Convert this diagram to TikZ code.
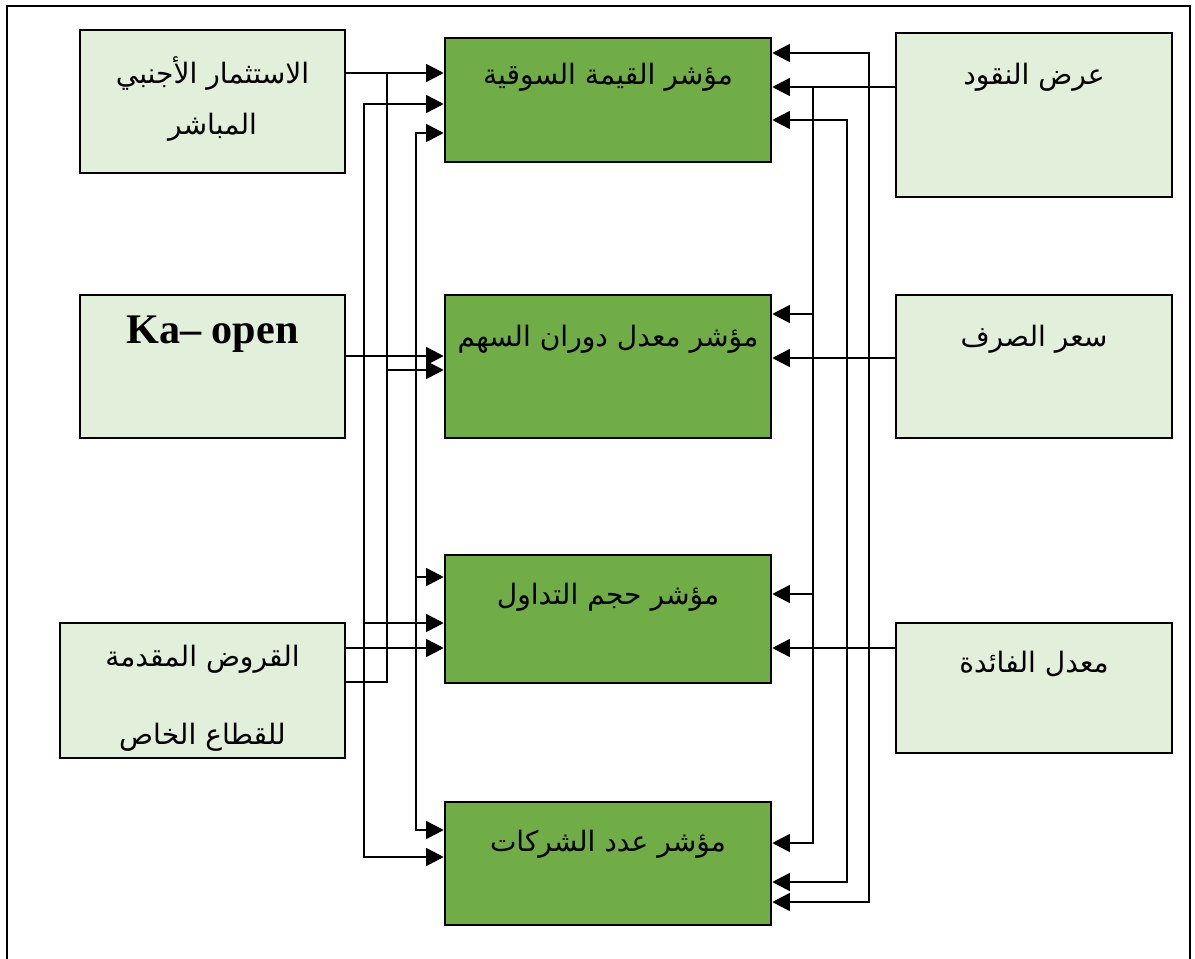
\documentclass[tikz,border=0pt]{standalone}
\usepackage{fontspec}
\usetikzlibrary{arrows.meta}
\newfontfamily\arabicfont[Script=Arabic]{DejaVu Sans}
\newfontfamily\latinserif{Liberation Serif}
\TeXXeTstate=1
\definecolor{paleGreen}{HTML}{E2EFDA}
\definecolor{leafGreen}{HTML}{70AD47}

\tikzset{
  inbox/.style={draw, fill=paleGreen, line width=0.7pt, inner sep=0pt},
  midbox/.style={draw, fill=leafGreen, line width=0.7pt, inner sep=0pt, minimum width=3.26cm},
  lbl/.style={font=\arabicfont\fontsize{8}{9.6}\selectfont, align=center, inner sep=0pt},
  arr/.style={-{Triangle[length=5pt,width=5pt]}, line width=0.75pt},
  arrtwo/.style={{Triangle[length=5pt,width=5pt]}-{Triangle[length=5pt,width=5pt]}, line width=0.75pt},
  wire/.style={line width=0.75pt}
}

\begin{document}
\begin{tikzpicture}[x=1cm, y=1cm]
  \useasboundingbox (0,0) rectangle (11.95,-9.58);
  \draw[line width=0.6pt] (0.07,-9.8) -- (0.07,-0.06) -- (11.90,-0.06) -- (11.90,-9.8);

  % sources on the left
  \node[inbox, minimum width=2.65cm, minimum height=1.43cm] (fdi) at (2.125,-1.015) {};
  \node[inbox, minimum width=2.65cm, minimum height=1.43cm] (kaopen) at (2.125,-3.665) {};
  \node[inbox, minimum width=2.85cm, minimum height=1.35cm] (loans) at (2.025,-6.905) {};

  % indicators in the middle
  \node[midbox, minimum height=1.24cm] (mcap) at (6.08,-1.00) {};
  \node[midbox, minimum height=1.43cm] (turn) at (6.08,-3.665) {};
  \node[midbox, minimum height=1.28cm] (vol) at (6.08,-6.19) {};
  \node[midbox, minimum height=1.23cm] (comp) at (6.08,-8.635) {};

  % sources on the right
  \node[inbox, minimum width=2.76cm, minimum height=1.64cm] (money) at (10.34,-1.15) {};
  \node[inbox, minimum width=2.76cm, minimum height=1.43cm] (rate) at (10.34,-3.665) {};
  \node[inbox, minimum width=2.76cm, minimum height=1.30cm] (inter) at (10.34,-6.88) {};

  % box texts
  \node[lbl] (fdiA) at ([yshift=-0.45cm]fdi.north) {\beginR الاستثمار الأجنبي\endR};
  \node[lbl] (fdiB) at ([yshift=-0.98cm]fdi.north) {\beginR المباشر\endR};
  \node[inner sep=0pt, font=\latinserif\bfseries\fontsize{12}{14}\selectfont] (kaT) at ([yshift=-0.40cm]kaopen.north) {Ka– open};
  \node[lbl] (loansA) at ([yshift=-0.37cm]loans.north) {\beginR القروض المقدمة\endR};
  \node[lbl] (loansB) at ([yshift=-1.15cm]loans.north) {\beginR للقطاع الخاص\endR};
  \node[lbl] (mcapT) at ([yshift=-0.40cm]mcap.north) {\beginR مؤشر القيمة السوقية\endR};
  \node[lbl] (turnT) at ([yshift=-0.45cm]turn.north) {\beginR مؤشر معدل دوران السهم\endR};
  \node[lbl] (volT) at ([yshift=-0.43cm]vol.north) {\beginR مؤشر حجم التداول\endR};
  \node[lbl] (compT) at ([yshift=-0.43cm]comp.north) {\beginR مؤشر عدد الشركات\endR};
  \node[lbl] (moneyT) at ([yshift=-0.45cm]money.north) {\beginR عرض النقود\endR};
  \node[lbl] (rateT) at ([yshift=-0.45cm]rate.north) {\beginR سعر الصرف\endR};
  \node[lbl] (interT) at ([yshift=-0.42cm]inter.north) {\beginR معدل الفائدة\endR};

  % left feeds
  \draw[arr] (fdi.east |- 0,-0.73) -- (mcap.west |- 0,-0.73);
  \draw[wire] (loans.east |- 0,-6.82) -| (3.87,-0.73);
  \draw[arr] (3.87,-3.70) -- (turn.west |- 0,-3.70);
  \draw[arr] (kaopen.east |- 0,-3.56) -- (turn.west |- 0,-3.56);
  \draw[arrtwo] (mcap.west |- 0,-1.04) -| (3.64,-8.57) -- (comp.west |- 0,-8.57);
  \draw[arr] (3.64,-6.23) -- (vol.west |- 0,-6.23);
  \draw[arrtwo] (mcap.west |- 0,-1.33) -| (4.16,-8.30) -- (comp.west |- 0,-8.30);
  \draw[arr] (4.16,-5.77) -- (vol.west |- 0,-5.77);
  \draw[arr] (loans.east |- 0,-6.48) -- (vol.west |- 0,-6.48);

  % right feeds
  \draw[arrtwo] (mcap.east |- 0,-0.53) -| (8.69,-9.02) -- (comp.east |- 0,-9.02);
  \draw[arr] (money.west |- 0,-0.87) -- (mcap.east |- 0,-0.87);
  \draw[arr] (8.13,-0.87) |- (comp.east |- 0,-8.43);
  \draw[arr] (8.13,-3.14) -- (turn.east |- 0,-3.14);
  \draw[arr] (8.13,-5.94) -- (vol.east |- 0,-5.94);
  \draw[arrtwo] (mcap.east |- 0,-1.20) -| (8.47,-8.82) -- (comp.east |- 0,-8.82);
  \draw[arr] (rate.west |- 0,-3.58) -- (turn.east |- 0,-3.58);
  \draw[arr] (inter.west |- 0,-6.48) -- (vol.east |- 0,-6.48);
\end{tikzpicture}
\end{document}
